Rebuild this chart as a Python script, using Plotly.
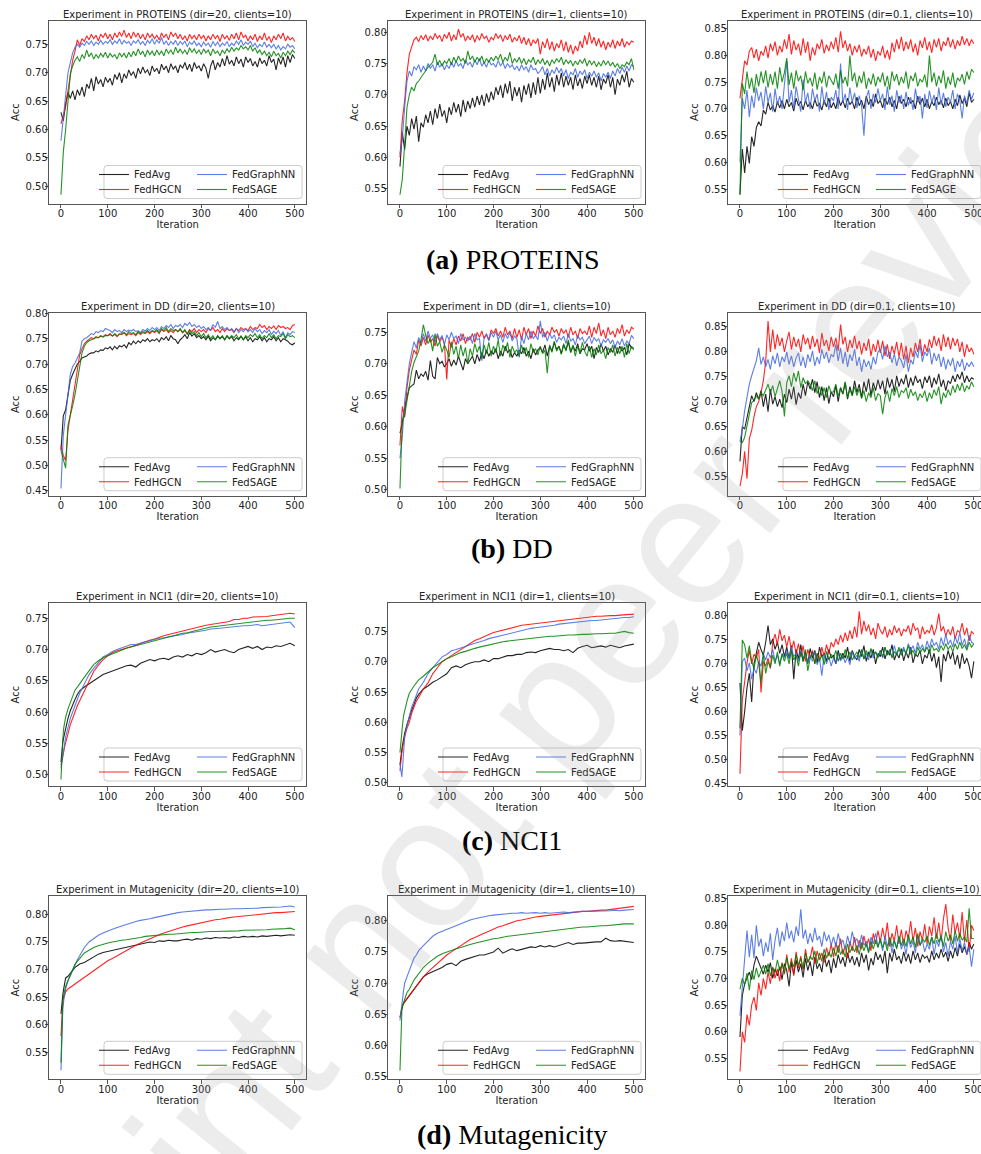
import plotly.graph_objects as go

W, H = 981, 1154

# ---------------- iteration grids ----------------
ITER_FINE = list(range(0, 501, 5))
ITER_SMOOTH = [0, 2, 4, 6, 8, 10, 15, 20, 25, 30, 35, 40] + list(range(50, 501, 10))
X_TICKS = [0, 100, 200, 300, 400, 500]

METHODS = ["FedAvg", "FedHGCN", "FedGraphNN", "FedSAGE"]
COLORS = ["#000000", "#ff0000", "#4169e1", "#008000"]

# ---------------- accuracy values (x1000) ----------------
# (a) PROTEINS dir=20
PROTEINS_20_FEDAVG = [
    630, 615, 645, 665, 655, 668, 652, 670, 660, 675,
    658, 680, 672, 690, 668, 693, 680, 688, 675, 692,
    683, 690, 678, 697, 688, 700, 682, 698, 690, 705,
    695, 702, 690, 708, 698, 710, 700, 705, 695, 712,
    702, 708, 698, 715, 705, 712, 700, 716, 706, 712,
    700, 714, 708, 718, 705, 715, 702, 718, 708, 712,
    703, 716, 708, 690, 712, 722, 705, 718, 710, 725,
    712, 730, 715, 722, 712, 728, 716, 724, 710, 728,
    718, 725, 712, 720, 710, 726, 716, 722, 712, 730,
    718, 724, 705, 726, 715, 728, 710, 730, 718, 732, 725]
PROTEINS_20_FEDHGCN = [
    610, 625, 640, 668, 700, 722, 738, 758, 748, 760,
    755, 765, 758, 768, 760, 766, 756, 768, 762, 770,
    760, 768, 758, 770, 762, 772, 764, 775, 762, 770,
    760, 772, 763, 770, 760, 768, 758, 770, 762, 768,
    760, 766, 758, 770, 762, 768, 758, 772, 764, 770,
    760, 768, 758, 765, 756, 768, 760, 766, 758, 768,
    760, 766, 756, 765, 758, 768, 760, 766, 755, 768,
    760, 765, 757, 768, 760, 770, 758, 772, 762, 766,
    756, 765, 758, 768, 755, 765, 758, 770, 757, 764,
    753, 765, 758, 768, 760, 770, 756, 764, 758, 762, 755]
PROTEINS_20_FEDGRAPHNN = [
    580, 620, 655, 700, 718, 735, 745, 750, 745, 752,
    748, 755, 750, 756, 748, 754, 750, 757, 750, 755,
    752, 758, 750, 756, 752, 760, 750, 757, 752, 755,
    748, 756, 752, 758, 750, 755, 748, 757, 752, 760,
    750, 758, 752, 762, 750, 756, 748, 755, 750, 757,
    748, 755, 750, 756, 746, 754, 750, 756, 748, 752,
    746, 754, 748, 752, 745, 755, 748, 754, 746, 752,
    748, 755, 746, 752, 748, 756, 750, 758, 748, 754,
    750, 756, 746, 752, 744, 750, 746, 754, 745, 750,
    744, 750, 742, 748, 740, 746, 742, 750, 745, 748, 742]
PROTEINS_20_FEDSAGE = [
    485, 560, 600, 655, 698, 712, 722, 728, 720, 732,
    725, 740, 728, 735, 724, 732, 726, 734, 728, 736,
    726, 734, 728, 732, 724, 735, 728, 734, 726, 736,
    728, 738, 730, 742, 732, 738, 728, 740, 732, 738,
    730, 740, 732, 738, 730, 742, 734, 740, 732, 745,
    735, 742, 734, 740, 732, 744, 736, 742, 734, 740,
    732, 742, 735, 740, 730, 742, 734, 738, 730, 740,
    734, 742, 736, 745, 738, 744, 740, 748, 742, 746,
    740, 748, 738, 744, 735, 740, 732, 738, 730, 736,
    728, 738, 730, 734, 726, 736, 730, 738, 732, 740, 735]

# (a) PROTEINS dir=1
PROTEINS_1_FEDAVG = [
    585, 640, 612, 650, 635, 662, 645, 666, 625, 655,
    648, 668, 655, 674, 652, 678, 662, 685, 665, 675,
    655, 680, 668, 688, 672, 685, 665, 692, 672, 690,
    678, 695, 680, 698, 684, 700, 682, 702, 688, 705,
    692, 712, 700, 715, 695, 718, 702, 722, 690, 712,
    698, 712, 688, 715, 700, 718, 695, 720, 700, 728,
    702, 725, 708, 735, 712, 728, 705, 732, 715, 735,
    712, 730, 715, 728, 708, 732, 714, 726, 710, 730,
    718, 732, 715, 728, 712, 730, 708, 725, 718, 732,
    712, 728, 700, 725, 715, 732, 720, 738, 712, 726, 720]
PROTEINS_1_FEDHGCN = [
    600, 660, 690, 735, 765, 778, 788, 792, 785, 795,
    788, 796, 786, 794, 788, 798, 790, 795, 785, 797,
    790, 800, 786, 796, 788, 805, 792, 798, 786, 794,
    788, 796, 784, 795, 787, 798, 790, 794, 784, 792,
    788, 798, 790, 796, 785, 795, 788, 797, 784, 792,
    786, 795, 782, 792, 780, 790, 778, 788, 782, 790,
    765, 785, 775, 790, 772, 785, 770, 782, 775, 788,
    770, 785, 768, 780, 765, 778, 770, 786, 775, 795,
    780, 800, 782, 792, 778, 790, 776, 786, 772, 784,
    776, 788, 774, 786, 778, 790, 776, 785, 780, 786, 784]
PROTEINS_1_FEDGRAPHNN = [
    605, 630, 680, 722, 738, 730, 745, 740, 748, 736,
    746, 738, 750, 742, 748, 738, 752, 744, 750, 740,
    748, 742, 752, 744, 754, 746, 750, 742, 756, 748,
    752, 744, 756, 748, 758, 746, 752, 744, 755, 748,
    750, 744, 755, 746, 752, 742, 750, 744, 748, 740,
    746, 738, 748, 740, 745, 736, 748, 740, 742, 734,
    738, 745, 732, 742, 730, 740, 734, 744, 735, 742,
    730, 740, 726, 736, 732, 742, 728, 738, 732, 740,
    726, 736, 730, 738, 728, 735, 722, 734, 728, 736,
    726, 738, 730, 742, 734, 744, 736, 746, 738, 748, 745]
PROTEINS_1_FEDSAGE = [
    540, 565, 620, 680, 700, 712, 706, 718, 722, 728,
    732, 740, 744, 748, 752, 765, 748, 755, 746, 754,
    750, 758, 748, 760, 752, 762, 754, 758, 750, 770,
    756, 762, 752, 760, 754, 762, 750, 758, 752, 760,
    754, 762, 756, 765, 752, 760, 754, 768, 750, 758,
    752, 760, 750, 758, 748, 756, 752, 760, 748, 756,
    750, 758, 748, 755, 746, 756, 750, 758, 752, 760,
    748, 756, 750, 755, 746, 754, 748, 756, 750, 758,
    746, 755, 748, 754, 745, 752, 746, 755, 748, 754,
    746, 752, 744, 750, 742, 748, 745, 752, 748, 758, 740]

# (a) PROTEINS dir=0.1
PROTEINS_01_FEDAVG = [
    540, 625, 580, 630, 598, 648, 630, 665, 676, 668,
    698, 690, 712, 698, 706, 694, 714, 702, 716, 700,
    718, 704, 712, 696, 720, 706, 714, 698, 716, 704,
    712, 700, 718, 705, 710, 698, 716, 704, 720, 702,
    712, 700, 722, 706, 716, 702, 720, 708, 714, 700,
    722, 706, 716, 700, 724, 708, 718, 704, 728, 710,
    716, 702, 720, 708, 722, 704, 716, 700, 724, 710,
    718, 704, 722, 710, 716, 700, 724, 708, 720, 704,
    718, 700, 714, 706, 722, 708, 716, 702, 720, 706,
    714, 700, 718, 706, 726, 710, 720, 704, 730, 712, 718]
PROTEINS_01_FEDHGCN = [
    720, 752, 790, 782, 808, 815, 795, 812, 790, 808,
    800, 818, 795, 822, 808, 826, 800, 818, 806, 830,
    812, 840, 802, 828, 810, 822, 800, 832, 805, 826,
    790, 815, 800, 822, 812, 830, 804, 820, 808, 826,
    812, 834, 806, 845, 814, 828, 808, 822, 800, 818,
    806, 820, 798, 812, 802, 818, 796, 812, 790, 808,
    800, 818, 795, 810, 792, 824, 806, 830, 812, 835,
    808, 826, 812, 830, 806, 822, 800, 828, 814, 834,
    810, 826, 805, 830, 815, 832, 808, 826, 818, 834,
    815, 830, 812, 828, 818, 836, 820, 832, 818, 830, 822]
PROTEINS_01_FEDGRAPHNN = [
    600, 720, 700, 735, 685, 725, 702, 740, 715, 732,
    700, 742, 712, 730, 695, 738, 708, 724, 700, 745,
    790, 712, 735, 700, 742, 718, 695, 755, 712, 730,
    700, 738, 715, 728, 695, 742, 708, 732, 698, 722,
    715, 735, 700, 785, 712, 728, 698, 740, 712, 730,
    702, 725, 706, 650, 720, 735, 700, 728, 712, 738,
    715, 728, 698, 742, 708, 725, 695, 735, 712, 726,
    700, 732, 706, 722, 698, 738, 712, 724, 682, 728,
    702, 734, 712, 726, 698, 740, 708, 730, 704, 722,
    712, 735, 700, 728, 716, 682, 725, 710, 735, 718, 730]
PROTEINS_01_FEDSAGE = [
    540, 748, 728, 770, 738, 758, 730, 765, 742, 770,
    748, 772, 740, 765, 745, 770, 738, 778, 750, 768,
    795, 745, 768, 738, 772, 752, 762, 735, 770, 748,
    758, 742, 768, 736, 760, 748, 770, 740, 762, 752,
    745, 766, 738, 772, 748, 760, 742, 800, 752, 768,
    740, 762, 748, 770, 738, 758, 746, 766, 742, 760,
    750, 768, 742, 762, 736, 770, 752, 765, 744, 760,
    748, 770, 738, 762, 752, 768, 742, 756, 750, 764,
    740, 800, 750, 768, 742, 762, 748, 772, 738, 760,
    745, 768, 740, 758, 752, 765, 746, 770, 755, 774, 768]

# (b) DD dir=20
DD_20_FEDAVG = [
    530, 598, 610, 640, 668, 680, 692, 700, 705, 712,
    714, 716, 720, 722, 722, 726, 724, 728, 727, 732,
    730, 734, 728, 735, 730, 736, 734, 738, 732, 742,
    738, 745, 740, 746, 742, 748, 745, 750, 744, 748,
    746, 750, 744, 752, 748, 754, 746, 756, 750, 748,
    740, 748, 752, 758, 750, 762, 755, 760, 752, 756,
    750, 754, 748, 755, 746, 752, 748, 756, 750, 754,
    748, 756, 750, 754, 746, 752, 748, 755, 748, 754,
    746, 752, 744, 750, 748, 754, 746, 752, 744, 750,
    748, 754, 746, 752, 744, 750, 748, 745, 740, 738, 742]
DD_20_FEDHGCN = [
    540, 520, 510, 570, 600, 628, 660, 690, 718, 730,
    740, 745, 748, 752, 750, 754, 752, 756, 754, 758,
    756, 760, 755, 758, 754, 760, 758, 762, 756, 760,
    758, 760, 756, 762, 758, 762, 760, 764, 760, 765,
    762, 766, 760, 768, 764, 768, 762, 766, 762, 768,
    764, 768, 762, 766, 760, 768, 764, 770, 762, 768,
    764, 768, 762, 770, 766, 772, 764, 768, 762, 770,
    764, 770, 766, 768, 762, 770, 766, 772, 768, 770,
    766, 774, 768, 772, 770, 778, 772, 776, 768, 774,
    770, 775, 768, 776, 772, 774, 770, 772, 768, 776, 778]
DD_20_FEDGRAPHNN = [
    455, 560, 600, 640, 680, 695, 702, 712, 722, 745,
    750, 752, 756, 760, 758, 764, 762, 766, 764, 770,
    768, 766, 762, 768, 764, 766, 762, 768, 764, 767,
    765, 768, 764, 766, 762, 768, 765, 770, 766, 772,
    768, 772, 766, 774, 770, 776, 772, 778, 770, 776,
    774, 778, 772, 780, 776, 782, 774, 778, 772, 776,
    770, 774, 768, 772, 766, 778, 772, 784, 770, 774,
    768, 772, 766, 770, 764, 770, 762, 768, 764, 770,
    764, 768, 762, 770, 764, 768, 760, 766, 762, 768,
    758, 765, 760, 766, 756, 764, 752, 762, 758, 764, 762]
DD_20_FEDSAGE = [
    530, 512, 495, 580, 598, 618, 640, 668, 700, 722,
    735, 742, 746, 748, 750, 752, 752, 755, 753, 756,
    756, 758, 755, 760, 756, 758, 760, 762, 758, 764,
    760, 762, 758, 764, 760, 764, 762, 766, 762, 766,
    764, 768, 762, 770, 766, 772, 764, 770, 766, 768,
    764, 770, 762, 768, 758, 766, 760, 764, 756, 762,
    754, 760, 752, 758, 750, 756, 748, 754, 750, 756,
    748, 755, 750, 756, 752, 758, 750, 755, 748, 756,
    752, 758, 754, 760, 752, 758, 750, 756, 752, 760,
    752, 758, 750, 756, 754, 760, 750, 758, 754, 756, 752]

# (b) DD dir=1
DD_1_FEDAVG = [
    590, 605, 630, 648, 662, 665, 668, 690, 676, 684,
    680, 688, 674, 705, 680, 676, 710, 700, 704, 695,
    700, 708, 696, 706, 698, 712, 702, 690, 708, 700,
    706, 712, 700, 715, 704, 718, 708, 722, 712, 720,
    715, 724, 708, 720, 712, 728, 718, 722, 710, 718,
    712, 722, 716, 726, 712, 720, 708, 724, 714, 722,
    726, 718, 730, 712, 728, 720, 734, 722, 728, 716,
    730, 722, 735, 718, 728, 720, 732, 716, 724, 722,
    732, 720, 728, 708, 726, 718, 732, 720, 728, 714,
    724, 718, 730, 716, 728, 720, 726, 714, 732, 725, 725]
DD_1_FEDHGCN = [
    570, 632, 615, 662, 690, 706, 722, 715, 738, 728,
    742, 730, 746, 734, 740, 728, 745, 735, 742, 732,
    675, 738, 726, 740, 730, 744, 736, 748, 732, 742,
    738, 748, 734, 750, 742, 752, 740, 746, 738, 754,
    748, 756, 744, 752, 742, 758, 746, 752, 740, 756,
    742, 754, 738, 758, 746, 756, 740, 752, 744, 760,
    748, 756, 742, 752, 746, 758, 750, 754, 744, 756,
    748, 754, 742, 758, 746, 752, 740, 756, 748, 752,
    746, 760, 742, 758, 748, 765, 744, 754, 740, 758,
    746, 752, 742, 756, 748, 762, 744, 754, 748, 758, 755]
DD_1_FEDGRAPHNN = [
    550, 585, 640, 672, 700, 718, 735, 725, 742, 732,
    748, 736, 752, 740, 746, 734, 748, 738, 745, 730,
    746, 738, 750, 740, 744, 732, 748, 738, 742, 736,
    744, 732, 748, 738, 740, 705, 742, 748, 736, 750,
    742, 752, 738, 746, 734, 748, 740, 750, 736, 744,
    740, 710, 744, 732, 748, 738, 752, 740, 745, 738,
    768, 742, 750, 736, 748, 740, 746, 734, 742, 738,
    744, 732, 748, 736, 740, 730, 745, 738, 742, 732,
    738, 744, 732, 742, 736, 740, 728, 738, 734, 740,
    732, 738, 726, 736, 730, 740, 728, 736, 732, 745, 740]
DD_1_FEDSAGE = [
    502, 610, 618, 640, 668, 688, 702, 712, 720, 738,
    762, 745, 732, 740, 720, 748, 728, 735, 718, 730,
    722, 710, 735, 715, 728, 708, 730, 712, 726, 700,
    724, 712, 732, 718, 728, 708, 730, 716, 734, 712,
    728, 718, 738, 712, 730, 720, 734, 710, 728, 718,
    722, 712, 730, 716, 726, 710, 732, 718, 724, 714,
    728, 716, 722, 685, 730, 718, 736, 720, 728, 715,
    732, 720, 738, 718, 730, 712, 728, 716, 734, 720,
    712, 728, 710, 724, 714, 730, 716, 722, 708, 726,
    718, 730, 712, 726, 716, 728, 710, 732, 716, 728, 722]

# (b) DD dir=0.1
DD_01_FEDAVG = [
    580, 650, 645, 665, 690, 712, 700, 718, 705, 722,
    690, 715, 680, 725, 695, 710, 690, 705, 688, 715,
    698, 725, 705, 730, 694, 718, 706, 735, 712, 740,
    725, 745, 718, 740, 708, 730, 702, 728, 696, 720,
    710, 732, 700, 728, 715, 738, 705, 730, 712, 742,
    718, 735, 708, 740, 720, 746, 712, 738, 722, 744,
    725, 742, 715, 748, 728, 745, 720, 752, 730, 746,
    735, 755, 728, 748, 732, 752, 738, 745, 726, 750,
    738, 752, 728, 748, 735, 756, 730, 744, 722, 742,
    736, 752, 740, 755, 745, 760, 738, 752, 740, 748, 745]
DD_01_FEDHGCN = [
    530, 555, 600, 545, 625, 642, 670, 690, 700, 718,
    742, 780, 862, 800, 845, 805, 835, 812, 828, 800,
    822, 840, 805, 830, 810, 826, 800, 835, 815, 828,
    805, 832, 810, 826, 798, 838, 812, 824, 802, 830,
    810, 828, 802, 855, 815, 830, 800, 824, 808, 832,
    806, 822, 795, 818, 802, 826, 792, 816, 800, 824,
    798, 822, 792, 815, 786, 812, 796, 820, 790, 818,
    785, 812, 778, 808, 790, 818, 800, 826, 792, 815,
    800, 825, 808, 832, 812, 828, 802, 835, 810, 830,
    805, 828, 812, 826, 800, 820, 790, 815, 800, 808, 795]
DD_01_FEDGRAPHNN = [
    620, 645, 682, 712, 735, 752, 768, 782, 808, 775,
    790, 770, 785, 765, 792, 776, 798, 770, 790, 780,
    800, 775, 792, 770, 788, 798, 772, 790, 768, 795,
    780, 802, 772, 790, 776, 805, 786, 800, 778, 795,
    790, 815, 782, 808, 776, 800, 770, 795, 782, 805,
    772, 790, 760, 785, 770, 782, 765, 790, 775, 800,
    805, 785, 812, 790, 800, 778, 796, 772, 790, 782,
    768, 795, 760, 784, 775, 802, 788, 815, 780, 800,
    792, 808, 775, 798, 782, 796, 770, 790, 765, 785,
    772, 788, 760, 782, 770, 786, 762, 778, 770, 780, 770]
DD_01_FEDSAGE = [
    620, 618, 628, 652, 670, 698, 702, 712, 705, 718,
    712, 722, 735, 718, 732, 710, 726, 742, 720, 670,
    738, 752, 730, 758, 740, 762, 728, 748, 736, 742,
    735, 722, 742, 716, 730, 712, 728, 708, 732, 718,
    720, 735, 710, 728, 716, 740, 708, 725, 712, 730,
    712, 726, 706, 722, 700, 718, 708, 728, 702, 716,
    712, 675, 708, 722, 700, 726, 712, 730, 708, 722,
    718, 728, 706, 725, 712, 720, 702, 716, 708, 722,
    700, 718, 706, 724, 712, 730, 695, 718, 708, 724,
    712, 732, 718, 735, 722, 738, 720, 732, 725, 740, 730]

# (c) NCI1 dir=20  (smooth grid)
NCI1_20_FEDAVG = [
    520, 540, 552, 560, 568, 575, 590, 602, 612, 620, 628, 634,
    640, 645, 650, 655, 660, 663, 666, 668, 671, 674,
    675, 672, 678, 681, 684, 682, 685, 686, 684, 688,
    690, 688, 692, 690, 694, 692, 695, 700, 696, 698,
    700, 697, 695, 700, 703, 705, 702, 705, 700, 704,
    703, 706, 705, 708, 710, 706]
NCI1_20_FEDHGCN = [
    515, 525, 530, 537, 545, 550, 565, 580, 592, 600, 610, 618,
    635, 650, 665, 675, 684, 690, 695, 698, 700, 703,
    705, 707, 710, 713, 715, 717, 720, 722, 724, 726,
    728, 730, 731, 733, 735, 737, 739, 740, 741, 742,
    744, 745, 748, 748, 750, 750, 752, 752, 753, 753,
    754, 755, 755, 756, 758, 757]
NCI1_20_FEDGRAPHNN = [
    510, 520, 530, 540, 550, 560, 575, 590, 600, 610, 620, 630,
    645, 660, 670, 680, 688, 692, 697, 700, 703, 706,
    708, 708, 710, 713, 714, 716, 718, 719, 720, 722,
    722, 724, 726, 727, 728, 730, 731, 733, 733, 734,
    735, 736, 737, 737, 738, 738, 739, 740, 738, 739,
    740, 740, 742, 742, 744, 735]
NCI1_20_FEDSAGE = [
    492, 530, 558, 575, 585, 592, 605, 616, 626, 635, 640, 646,
    656, 666, 676, 682, 687, 690, 693, 697, 700, 702,
    704, 706, 708, 711, 713, 715, 716, 718, 720, 722,
    724, 726, 727, 729, 731, 733, 734, 736, 737, 738,
    739, 740, 741, 742, 743, 744, 745, 745, 746, 747,
    747, 748, 748, 749, 750, 750]

# (c) NCI1 dir=1  (smooth grid)
NCI1_1_FEDAVG = [
    530, 548, 555, 565, 575, 582, 596, 610, 620, 630, 640, 646,
    655, 660, 666, 670, 675, 680, 690, 693, 690, 695,
    698, 700, 700, 703, 700, 705, 705, 708, 710, 710,
    712, 712, 715, 716, 715, 718, 720, 722, 720, 720,
    718, 720, 715, 722, 725, 727, 723, 725, 726, 724,
    727, 725, 723, 726, 728, 729]
NCI1_1_FEDHGCN = [
    520, 540, 550, 560, 570, 576, 590, 600, 615, 625, 635, 641,
    655, 665, 680, 690, 700, 705, 710, 715, 720, 725,
    730, 735, 738, 742, 745, 748, 750, 752, 755, 756,
    758, 760, 761, 762, 763, 764, 765, 766, 767, 768,
    769, 770, 771, 772, 773, 773, 774, 775, 775, 776,
    776, 776, 777, 778, 778, 778]
NCI1_1_FEDGRAPHNN = [
    532, 520, 510, 530, 558, 575, 595, 610, 625, 635, 645, 655,
    666, 680, 690, 700, 708, 712, 718, 720, 722, 725,
    728, 730, 733, 735, 738, 740, 742, 744, 746, 748,
    750, 752, 753, 755, 756, 757, 757, 758, 760, 762,
    763, 763, 765, 766, 766, 767, 768, 768, 769, 770,
    771, 772, 772, 773, 773, 774]
NCI1_1_FEDSAGE = [
    550, 572, 590, 600, 612, 620, 635, 648, 655, 660, 665, 670,
    676, 683, 690, 695, 700, 705, 708, 712, 715, 717,
    720, 722, 724, 726, 728, 730, 731, 733, 734, 735,
    736, 737, 738, 739, 740, 741, 741, 742, 742, 743,
    743, 744, 744, 745, 745, 745, 746, 746, 746, 747,
    747, 747, 748, 750, 748, 747]

# (c) NCI1 dir=0.1
NCI1_01_FEDAVG = [
    660, 560, 600, 650, 680, 620, 700, 725, 745, 730,
    718, 745, 780, 740, 752, 730, 745, 722, 740, 715,
    735, 712, 738, 668, 730, 710, 740, 705, 725, 700,
    732, 712, 728, 702, 735, 715, 722, 705, 730, 712,
    718, 700, 728, 708, 722, 712, 735, 705, 728, 715,
    708, 730, 715, 738, 705, 725, 712, 730, 700, 722,
    715, 735, 710, 728, 718, 740, 708, 722, 712, 732,
    706, 725, 712, 735, 702, 720, 715, 728, 700, 718,
    712, 730, 705, 722, 692, 715, 662, 720, 705, 728,
    710, 725, 698, 718, 690, 722, 700, 712, 695, 670, 705]
NCI1_01_FEDHGCN = [
    470, 625, 662, 702, 728, 700, 720, 712, 730, 640,
    705, 695, 712, 690, 745, 762, 740, 772, 748, 760,
    735, 758, 728, 748, 720, 742, 715, 738, 705, 730,
    712, 728, 700, 722, 710, 735, 715, 740, 722, 745,
    735, 752, 740, 760, 745, 765, 748, 770, 752, 778,
    755, 810, 762, 790, 768, 782, 760, 775, 752, 785,
    770, 762, 778, 755, 772, 760, 780, 765, 775, 758,
    772, 768, 780, 760, 785, 770, 775, 752, 778, 762,
    770, 765, 782, 760, 775, 805, 768, 778, 758, 772,
    760, 778, 752, 770, 765, 785, 760, 775, 748, 768, 762]
NCI1_01_FEDGRAPHNN = [
    550, 705, 712, 685, 702, 668, 690, 680, 705, 695,
    720, 708, 725, 712, 730, 705, 718, 700, 722, 712,
    728, 710, 735, 715, 722, 705, 728, 712, 720, 702,
    718, 705, 725, 698, 712, 675, 720, 700, 715, 695,
    712, 700, 722, 706, 718, 702, 715, 698, 725, 710,
    718, 705, 728, 710, 722, 708, 730, 712, 725, 715,
    728, 712, 735, 720, 725, 715, 738, 720, 730, 722,
    735, 720, 742, 728, 738, 722, 745, 730, 740, 725,
    748, 732, 752, 738, 745, 730, 755, 738, 762, 740,
    750, 735, 758, 742, 765, 738, 752, 732, 760, 745, 742]
NCI1_01_FEDSAGE = [
    565, 750, 740, 712, 738, 705, 690, 718, 700, 660,
    722, 680, 705, 692, 718, 700, 725, 695, 720, 705,
    722, 700, 728, 708, 718, 695, 725, 705, 730, 685,
    712, 725, 700, 722, 705, 718, 698, 726, 708, 720,
    712, 728, 705, 722, 710, 730, 712, 725, 708, 718,
    725, 712, 730, 710, 728, 715, 732, 718, 725, 712,
    728, 715, 735, 718, 730, 712, 725, 720, 735, 718,
    730, 722, 738, 720, 728, 715, 735, 722, 732, 725,
    735, 722, 740, 728, 732, 725, 738, 728, 742, 730,
    738, 725, 742, 730, 745, 732, 740, 728, 745, 735, 742]

# (d) Mutagenicity dir=20  (smooth grid)
MUTAG_20_FEDAVG = [
    620, 642, 655, 666, 676, 685, 688, 694, 700, 704, 707, 710,
    713, 718, 724, 728, 731, 733, 735, 737, 738, 740,
    742, 745, 746, 748, 750, 749, 752, 751, 753, 752,
    752, 754, 755, 753, 756, 755, 757, 756, 758, 757,
    758, 757, 759, 758, 760, 759, 760, 759, 761, 760,
    761, 762, 761, 762, 763, 762]
MUTAG_20_FEDHGCN = [
    580, 630, 645, 650, 655, 660, 665, 668, 672, 675, 678, 680,
    686, 692, 698, 705, 710, 716, 720, 725, 730, 735,
    740, 744, 748, 752, 756, 760, 763, 766, 769, 772,
    775, 777, 779, 781, 783, 785, 787, 788, 790, 791,
    793, 794, 795, 796, 797, 798, 799, 800, 800, 801,
    802, 803, 803, 804, 805, 805]
MUTAG_20_FEDGRAPHNN = [
    518, 600, 630, 645, 655, 665, 680, 690, 700, 710, 718, 725,
    740, 750, 756, 762, 766, 770, 773, 776, 779, 782,
    785, 787, 789, 790, 792, 794, 796, 798, 800, 801,
    803, 804, 805, 806, 807, 807, 808, 808, 809, 809,
    809, 810, 810, 810, 810, 811, 811, 811, 812, 812,
    812, 813, 813, 814, 815, 813]
MUTAG_20_FEDSAGE = [
    532, 620, 645, 655, 665, 670, 680, 690, 700, 710, 715, 720,
    730, 735, 740, 743, 746, 748, 750, 752, 753, 754,
    755, 757, 758, 760, 761, 762, 762, 763, 764, 764,
    765, 766, 766, 767, 767, 768, 768, 769, 769, 769,
    770, 770, 770, 770, 771, 771, 771, 772, 772, 772,
    773, 773, 773, 774, 775, 772]

# (d) Mutagenicity dir=1  (smooth grid)
MUTAG_1_FEDAVG = [
    645, 650, 660, 665, 668, 670, 675, 680, 685, 690, 695, 700,
    710, 715, 718, 722, 725, 730, 732, 728, 735, 738,
    740, 742, 745, 745, 748, 750, 756, 748, 752, 755,
    752, 754, 756, 758, 757, 760, 758, 760, 758, 760,
    762, 765, 762, 764, 764, 765, 765, 766, 766, 772,
    768, 767, 768, 767, 766, 765]
MUTAG_1_FEDHGCN = [
    645, 655, 660, 665, 668, 670, 675, 680, 685, 690, 695, 700,
    710, 718, 725, 732, 738, 745, 750, 755, 760, 765,
    770, 773, 777, 780, 783, 787, 790, 792, 795, 797,
    800, 801, 803, 804, 806, 807, 808, 809, 810, 811,
    812, 813, 813, 814, 815, 815, 816, 816, 817, 817,
    818, 818, 819, 820, 822, 823]
MUTAG_1_FEDGRAPHNN = [
    640, 655, 670, 680, 690, 700, 710, 720, 730, 740, 745, 752,
    760, 768, 775, 780, 783, 786, 790, 793, 796, 799,
    801, 803, 805, 806, 808, 809, 810, 811, 812, 812,
    812, 813, 812, 813, 813, 812, 813, 812, 813, 814,
    814, 813, 814, 814, 815, 815, 815, 815, 816, 816,
    816, 817, 816, 817, 817, 818]
MUTAG_1_FEDSAGE = [
    560, 630, 655, 665, 670, 675, 685, 690, 698, 705, 710, 715,
    725, 732, 738, 743, 747, 750, 752, 755, 757, 760,
    762, 764, 766, 768, 770, 771, 772, 774, 775, 776,
    777, 778, 779, 780, 781, 782, 783, 784, 785, 786,
    787, 788, 788, 789, 790, 790, 791, 791, 792, 792,
    793, 793, 794, 795, 795, 795]

# (d) Mutagenicity dir=0.1
MUTAG_01_FEDAVG = [
    590, 668, 690, 702, 712, 698, 725, 742, 730, 718,
    708, 725, 712, 730, 700, 718, 705, 722, 698, 728,
    715, 685, 730, 708, 735, 712, 728, 702, 738, 715,
    732, 705, 740, 718, 728, 712, 745, 722, 735, 710,
    738, 720, 745, 728, 740, 722, 748, 730, 742, 725,
    740, 722, 748, 730, 745, 715, 738, 725, 750, 735,
    745, 728, 752, 710, 748, 732, 755, 735, 742, 728,
    750, 732, 746, 728, 752, 735, 748, 730, 745, 738,
    742, 730, 752, 735, 748, 738, 755, 740, 750, 732,
    752, 738, 758, 742, 765, 748, 760, 745, 768, 755, 765]
MUTAG_01_FEDHGCN = [
    525, 600, 580, 632, 612, 650, 665, 640, 692, 668,
    700, 680, 712, 690, 722, 700, 718, 695, 730, 708,
    745, 712, 738, 705, 750, 720, 742, 715, 755, 730,
    738, 760, 728, 752, 735, 748, 730, 758, 742, 765,
    740, 768, 748, 775, 745, 762, 738, 770, 752, 778,
    748, 772, 755, 780, 760, 775, 752, 785, 765, 790,
    768, 795, 772, 805, 760, 785, 770, 800, 765, 792,
    762, 790, 775, 808, 770, 795, 760, 788, 772, 802,
    765, 798, 780, 815, 775, 805, 770, 812, 840, 795,
    770, 820, 785, 805, 775, 825, 768, 810, 750, 800, 790]
MUTAG_01_FEDGRAPHNN = [
    630, 685, 752, 790, 740, 782, 738, 800, 760, 775,
    742, 768, 750, 785, 735, 772, 795, 760, 788, 770,
    805, 775, 790, 768, 798, 780, 830, 775, 792, 765,
    785, 768, 795, 772, 780, 760, 788, 770, 782, 762,
    778, 760, 785, 765, 772, 755, 780, 762, 788, 768,
    775, 758, 782, 762, 770, 750, 778, 765, 785, 760,
    772, 752, 780, 760, 775, 748, 770, 758, 778, 755,
    768, 745, 775, 758, 770, 748, 780, 762, 772, 750,
    765, 755, 778, 745, 772, 760, 782, 750, 768, 742,
    770, 755, 780, 748, 775, 752, 768, 745, 760, 722, 755]
MUTAG_01_FEDSAGE = [
    680, 700, 688, 710, 678, 715, 698, 720, 702, 712,
    725, 708, 728, 705, 720, 712, 735, 715, 728, 710,
    740, 718, 732, 722, 745, 725, 738, 718, 748, 730,
    742, 735, 752, 728, 748, 732, 755, 738, 750, 740,
    758, 742, 762, 745, 755, 740, 765, 748, 760, 750,
    762, 745, 768, 752, 765, 748, 770, 755, 772, 758,
    775, 758, 770, 752, 778, 760, 772, 755, 780, 762,
    775, 760, 782, 765, 778, 758, 785, 762, 775, 768,
    780, 762, 778, 765, 785, 768, 780, 760, 788, 770,
    782, 765, 790, 770, 785, 772, 778, 768, 832, 775, 775]

# ---------------- panel definitions ----------------
PANELS = [
    ("Experiment in PROTEINS (dir=20, clients=10)", ITER_FINE,
     [PROTEINS_20_FEDAVG, PROTEINS_20_FEDHGCN, PROTEINS_20_FEDGRAPHNN, PROTEINS_20_FEDSAGE], [0.4695, 0.7917]),
    ("Experiment in PROTEINS (dir=1, clients=10)", ITER_FINE,
     [PROTEINS_1_FEDAVG, PROTEINS_1_FEDHGCN, PROTEINS_1_FEDGRAPHNN, PROTEINS_1_FEDSAGE], [0.526, 0.8185]),
    ("Experiment in PROTEINS (dir=0.1, clients=10)", ITER_FINE,
     [PROTEINS_01_FEDAVG, PROTEINS_01_FEDHGCN, PROTEINS_01_FEDGRAPHNN, PROTEINS_01_FEDSAGE], [0.523, 0.865]),
    ("Experiment in DD (dir=20, clients=10)", ITER_FINE,
     [DD_20_FEDAVG, DD_20_FEDHGCN, DD_20_FEDGRAPHNN, DD_20_FEDSAGE], [0.4407, 0.8012]),
    ("Experiment in DD (dir=1, clients=10)", ITER_FINE,
     [DD_1_FEDAVG, DD_1_FEDHGCN, DD_1_FEDGRAPHNN, DD_1_FEDSAGE], [0.4905, 0.7811]),
    ("Experiment in DD (dir=0.1, clients=10)", ITER_FINE,
     [DD_01_FEDAVG, DD_01_FEDHGCN, DD_01_FEDGRAPHNN, DD_01_FEDSAGE], [0.511, 0.8787]),
    ("Experiment in NCI1 (dir=20, clients=10)", ITER_SMOOTH,
     [NCI1_20_FEDAVG, NCI1_20_FEDHGCN, NCI1_20_FEDGRAPHNN, NCI1_20_FEDSAGE], [0.4817, 0.774]),
    ("Experiment in NCI1 (dir=1, clients=10)", ITER_SMOOTH,
     [NCI1_1_FEDAVG, NCI1_1_FEDHGCN, NCI1_1_FEDGRAPHNN, NCI1_1_FEDSAGE], [0.495, 0.7963]),
    ("Experiment in NCI1 (dir=0.1, clients=10)", ITER_FINE,
     [NCI1_01_FEDAVG, NCI1_01_FEDHGCN, NCI1_01_FEDGRAPHNN, NCI1_01_FEDSAGE], [0.4444, 0.8265]),
    ("Experiment in Mutagenicity (dir=20, clients=10)", ITER_SMOOTH,
     [MUTAG_20_FEDAVG, MUTAG_20_FEDHGCN, MUTAG_20_FEDGRAPHNN, MUTAG_20_FEDSAGE], [0.5019, 0.833]),
    ("Experiment in Mutagenicity (dir=1, clients=10)", ITER_SMOOTH,
     [MUTAG_1_FEDAVG, MUTAG_1_FEDHGCN, MUTAG_1_FEDGRAPHNN, MUTAG_1_FEDSAGE], [0.5458, 0.8396]),
    ("Experiment in Mutagenicity (dir=0.1, clients=10)", ITER_FINE,
     [MUTAG_01_FEDAVG, MUTAG_01_FEDHGCN, MUTAG_01_FEDGRAPHNN, MUTAG_01_FEDSAGE], [0.5105, 0.855]),
]
CAPTIONS = ["<b>(a)</b> PROTEINS", "<b>(b)</b> DD", "<b>(c)</b> NCI1", "<b>(d)</b> Mutagenicity"]
WATERMARK = "Preprint not peer reviewed"

# ---------------- layout geometry (pixels) ----------------
COL_X = [(49.3, 306.0), (388.3, 645.0), (728.3, 981.0)]
COL_FRAME_RIGHT = [306.0, 645.0, 985.0]
ROW_Y = [(20.7, 203.5), (312.7, 495.7), (603.3, 786.0), (896.0, 1079.3)]
XRANGES = [[-24.95, 523.95], [-24.95, 523.95], [-24.95, 515.3]]
CAPTION_Y = [259, 548, 840, 1134]

FONT = "DejaVu Sans"
TXT = "#222222"
AXC = "#555555"


def px(x):
    return x / W


def py(y):
    return 1 - y / H


def rrect(x0, y0, x1, y1, r):
    pts = [
        ("M", (x0 + r, y0)), ("L", (x1 - r, y0)), ("Q", (x1, y0), (x1, y0 + r)),
        ("L", (x1, y1 - r)), ("Q", (x1, y1), (x1 - r, y1)), ("L", (x0 + r, y1)),
        ("Q", (x0, y1), (x0, y1 - r)), ("L", (x0, y0 + r)), ("Q", (x0, y0), (x0 + r, y0)),
    ]
    s = ""
    for cmd, *coords in pts:
        s += cmd + " ".join(f"{px(a):.5f},{py(b):.5f}" for a, b in coords) + " "
    return s + "Z"


fig = go.Figure()
layout = dict(width=W, height=H, margin=dict(l=0, r=0, t=0, b=0, pad=0),
              paper_bgcolor="white", plot_bgcolor="white",
              font=dict(family=FONT, size=10, color=TXT), showlegend=True)
annotations = []
shapes = []
legend_count = 0

for i, (title, grid, series, yr) in enumerate(PANELS):
    k = i + 1
    r, c = divmod(i, 3)
    sx = "" if k == 1 else str(k)
    x0, x1 = COL_X[c]
    y0, y1 = ROW_Y[r]
    layout["xaxis" + sx] = dict(
        domain=[px(x0), min(1.0, px(x1))], range=XRANGES[c], anchor="y" + sx, automargin=False,
        showline=True, mirror=True, linecolor=AXC, linewidth=1,
        ticks="outside", ticklen=3.5, tickcolor=AXC, tickwidth=1, ticklabelstandoff=-3,
        ticklabeloverflow="allow",
        tickvals=X_TICKS, showgrid=False, zeroline=False,
        tickfont=dict(size=10, color=TXT, family=FONT),
        title=dict(text="Iteration", font=dict(size=10, color=TXT, family=FONT), standoff=1),
    )
    layout["yaxis" + sx] = dict(
        domain=[py(y1), py(y0)], range=yr, anchor="x" + sx, automargin=False,
        showline=True, mirror=(c < 2), linecolor=AXC, linewidth=1,
        ticks="outside", ticklen=3.5, tickcolor=AXC, tickwidth=1, ticklabelstandoff=-5,
        tick0=0, dtick=0.05, tickformat=".2f", showgrid=False, zeroline=False,
        tickfont=dict(size=10, color=TXT, family=FONT),
        title=dict(text="Acc", font=dict(size=10, color=TXT, family=FONT), standoff=4),
    )
    # legend box (pixels)
    bx1 = COL_FRAME_RIGHT[c] - 4
    bx0 = bx1 - 198
    by1 = y1 - 5
    by0 = by1 - 33
    shapes.append(dict(type="path", path=rrect(bx0, by0, bx1, by1, 3), xref="paper", yref="paper",
                       fillcolor="rgba(255,255,255,0.8)", line=dict(color="#cccccc", width=1), layer="above"))
    slots = [(bx0 - 10, by0 + 9), (bx0 - 10, by0 + 24), (bx0 + 88, by0 + 9), (bx0 + 88, by0 + 24)]
    for j, (name, col, vals) in enumerate(zip(METHODS, COLORS, series)):
        legend_count += 1
        lid = "legend" if legend_count == 1 else f"legend{legend_count}"
        lx, ly = slots[j]
        layout[lid] = dict(x=px(lx), y=py(ly), xanchor="left", yanchor="middle",
                           bgcolor="rgba(0,0,0,0)", borderwidth=0, tracegroupgap=0,
                           font=dict(size=10, color=TXT, family=FONT))
        n = min(len(vals), len(grid))
        fig.add_trace(go.Scatter(
            x=grid[:n], y=[v / 1000 for v in vals[:n]], mode="lines", name=name,
            line=dict(color=col, width=1.1), opacity=0.85,
            xaxis="x" + sx, yaxis="y" + sx, legend=lid,
        ))
    # subplot title
    annotations.append(dict(text=title, x=px((x0 + COL_FRAME_RIGHT[c]) / 2), y=py(y0), xref="paper", yref="paper",
                            xanchor="center", yanchor="bottom", yshift=-1, showarrow=False,
                            font=dict(size=10, color=TXT, family=FONT)))

for r, cap in enumerate(CAPTIONS):
    annotations.append(dict(text=cap, x=px(512), y=py(CAPTION_Y[r]), xref="paper", yref="paper",
                            xanchor="center", yanchor="middle", showarrow=False,
                            font=dict(size=28, color="black", family="Liberation Serif")))

# watermark
annotations.append(dict(text=WATERMARK, x=px(566), y=py(684), xref="paper", yref="paper",
                        xanchor="center", yanchor="middle", showarrow=False, textangle=-51.3,
                        font=dict(size=186, color="rgba(140,140,140,0.17)", family="Liberation Sans")))

layout["annotations"] = annotations
layout["shapes"] = shapes
fig.update_layout(**layout)
fig.write_html("out.html", config={"displayModeBar": False},
               post_script="document.body.style.margin='0px';document.body.style.overflow='hidden';")
